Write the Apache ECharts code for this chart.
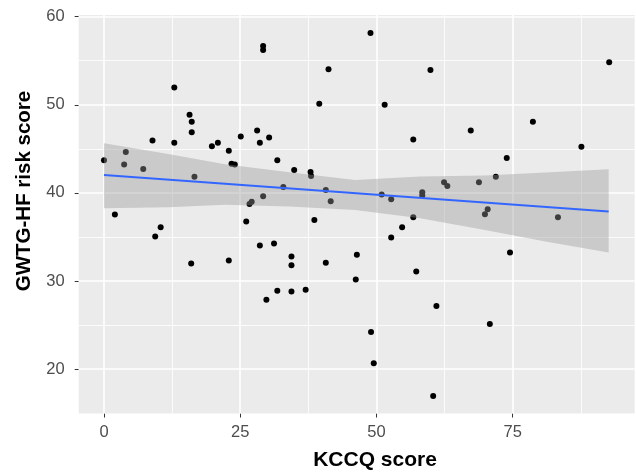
<!DOCTYPE html>
<html><head><meta charset="utf-8">
<script src="https://cdn.jsdelivr.net/npm/echarts@6/dist/echarts.min.js"></script>
<style>html,body{margin:0;padding:0;background:#fff}#c{width:636px;height:474px}</style>
</head><body><div id="c"></div>
<script>
// KCCQ score (x) and GWTG-HF risk score (y)
const kccq = [0, 2.0, 3.7, 4.0, 7.2, 8.9, 9.4, 10.4, 12.9, 12.9, 15.7, 16.1, 16.1, 16.6, 16.0,
  19.8, 20.9, 22.9, 23.4, 24.0, 22.9, 25.1, 26.1, 26.7, 27.1, 28.1, 28.6, 29.2, 29.2, 30.3,
  29.2, 28.6, 29.8, 31.8, 31.2, 31.8, 32.9, 34.9, 34.4, 34.4, 34.4, 37.0, 37.9, 38.0, 38.6,
  39.5, 40.7, 40.7, 41.2, 41.6, 46.4, 46.2, 48.9, 49.0, 49.5, 50.95, 51.5, 52.7, 52.7, 54.7,
  56.75, 56.75, 57.3, 58.4, 58.4, 59.9, 60.4, 61.0, 62.4, 63.0, 67.3, 68.8, 69.9, 70.4, 70.8,
  71.9, 73.9, 74.5, 78.7, 83.3, 87.6, 92.7];
const gwtg = [43.70, 37.54, 43.21, 44.65, 42.71, 45.94, 35.06, 36.11, 51.95, 45.69, 48.87, 48.07, 46.88, 41.82, 31.98,
  45.29, 45.69, 44.79, 43.31, 43.21, 32.33, 46.39, 36.75, 38.74, 38.99, 47.08, 45.69, 56.67, 56.22, 46.29,
  39.63, 34.02, 27.86, 43.70, 34.26, 28.90, 40.68, 42.61, 32.77, 31.78, 28.80, 29.00, 42.38, 41.91, 36.91,
  50.13, 40.32, 32.08, 54.04, 39.06, 32.97, 30.17, 58.15, 24.22, 20.65, 39.81, 50.01, 39.28, 34.95, 36.11,
  46.05, 37.24, 31.08, 40.08, 39.70, 53.94, 16.94, 27.17, 41.22, 40.79, 47.07, 41.22, 37.58, 38.14, 25.12,
  41.82, 43.97, 33.24, 48.07, 37.24, 45.25, 54.83];

// Linear fit line and its confidence band
const fitX = [0, 92.6];
const fitY = [42.03, 37.88];
const bandX = [0, 11.8, 22.2, 34, 46.1, 58, 69.9, 81, 92.6];
const bandUpper = [45.64, 44.42, 43.26, 42.35, 41.47, 41.85, 41.96, 42.30, 42.69];
const bandLower = [38.26, 38.38, 38.64, 38.45, 38.07, 37.13, 35.80, 34.48, 33.23];

// Tick / grid values
const xTicks = [0, 25, 50, 75];
const xMinor = [12.5, 37.5, 62.5, 87.5];
const yTicks = [20, 30, 40, 50, 60];
const yMinor = [25, 35, 45, 55];

const chart = echarts.init(document.getElementById('c'), null, {renderer: 'canvas'});
const FONT = '"Liberation Sans", Arial, sans-serif';

const gridLines = [];
xTicks.forEach(v => gridLines.push({xAxis: v, lineStyle: {width: 1.6}}));
xMinor.forEach(v => gridLines.push({xAxis: v, lineStyle: {width: 0.8}}));
yTicks.forEach(v => gridLines.push({yAxis: v, lineStyle: {width: 1.6}}));
yMinor.forEach(v => gridLines.push({yAxis: v, lineStyle: {width: 0.8}}));

chart.setOption({
  animation: false,
  backgroundColor: '#ffffff',
  grid: {left: 78.7, top: 15, width: 556, height: 398.5, show: true,
         backgroundColor: '#EBEBEB', borderWidth: 0, containLabel: false},
  xAxis: {
    type: 'value', min: -4.64, max: 97.38,
    axisLine: {show: false, onZero: false},
    axisTick: {show: true, length: 4, customValues: xTicks, lineStyle: {color: '#333333', width: 1}},
    axisLabel: {customValues: xTicks, margin: 10, color: '#4D4D4D', fontSize: 16.5, fontFamily: FONT},
    splitLine: {show: false}
  },
  yAxis: {
    type: 'value', min: 14.96, max: 60.19,
    axisLine: {show: false, onZero: false},
    axisTick: {show: true, length: 4, customValues: yTicks, lineStyle: {color: '#333333', width: 1}},
    axisLabel: {customValues: yTicks, margin: 14, color: '#4D4D4D', fontSize: 16.5, fontFamily: FONT},
    splitLine: {show: false}
  },
  graphic: [
    {type: 'text', x: 375, y: 460.5, silent: true,
     style: {text: 'KCCQ score', font: 'bold 21px ' + FONT, fill: '#000', textAlign: 'center', textVerticalAlign: 'middle'}},
    {type: 'text', x: 24.5, y: 191, rotation: Math.PI / 2, silent: true,
     style: {text: 'GWTG-HF risk score', font: 'bold 20.5px ' + FONT, fill: '#000', textAlign: 'center', textVerticalAlign: 'middle'}}
  ],
  series: [
    {type: 'line', data: [], z: 1, silent: true,
     markLine: {z: 1, silent: true, symbol: ['none', 'none'], label: {show: false},
                lineStyle: {color: '#ffffff', type: 'solid'}, data: gridLines, animation: false}},
    {type: 'scatter', z: 2, symbol: 'circle', symbolSize: 6,
     itemStyle: {color: '#000000', opacity: 1},
     data: kccq.map((x, i) => [x, gwtg[i]])},
    {type: 'custom', z: 3, silent: true, clip: true,
     data: [[bandX[0], bandLower[0]]],
     renderItem: function (params, api) {
       const pts = [];
       for (let i = 0; i < bandX.length; i++) pts.push(api.coord([bandX[i], bandUpper[i]]));
       for (let i = bandX.length - 1; i >= 0; i--) pts.push(api.coord([bandX[i], bandLower[i]]));
       return {type: 'polygon', shape: {points: pts}, style: {fill: 'rgba(153,153,153,0.4)'}};
     }},
    {type: 'line', z: 4, silent: true, symbol: 'none',
     lineStyle: {color: '#3366FF', width: 2},
     data: fitX.map((x, i) => [x, fitY[i]])}
  ]
});
</script>
</body></html>
